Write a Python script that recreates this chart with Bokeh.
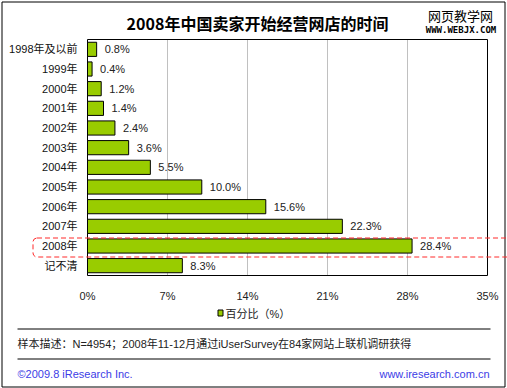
from bokeh.plotting import figure
from bokeh.models import Range1d, Label, BoxAnnotation
from bokeh.embed import file_html
from bokeh.resources import INLINE

# ---- data ----
categories = ["1998年及以前", "1999年", "2000年", "2001年", "2002年", "2003年",
              "2004年", "2005年", "2006年", "2007年", "2008年", "记不清"]
values = [0.8, 0.4, 1.2, 1.4, 2.4, 3.6, 5.5, 10.0, 15.6, 22.3, 28.4, 8.3]
value_labels = ["0.8%", "0.4%", "1.2%", "1.4%", "2.4%", "3.6%", "5.5%",
                "10.0%", "15.6%", "22.3%", "28.4%", "8.3%"]
x_ticks = [0, 7, 14, 21, 28, 35]
x_tick_labels = ["0%", "7%", "14%", "21%", "28%", "35%"]
highlight_category = "2008年"
title_text = "2008年中国卖家开始经营网店的时间"
legend_text = "百分比（%）"
note_text = "样本描述：N=4954；2008年11-12月通过iUserSurvey在84家网站上联机调研获得"
copyright_text = "©2009.8 iResearch Inc."
site_text = "www.iresearch.com.cn"
wm1_text = "网页教学网"
wm2_text = "WWW.WEBJX.COM"

LATIN = "'Liberation Sans', 'Noto Sans CJK SC'"
CJK = "'Noto Sans CJK SC'"
GREEN = "#99cc00"

W, H = 507, 388
# plot area (canvas pixels)
FL, FR, FT, FB = 87, 487, 39, 275
XMAX = 35.0
NROW = len(categories)
rows = list(range(NROW))
ROW_PX = (FB - FT) / NROW
VAL_PX = (FR - FL) / XMAX

# the whole canvas is the frame; base ranges are pixel-like,
# extra ranges map values / rows onto the plot area
p = figure(width=W, height=H, output_backend="svg", toolbar_location=None,
           x_range=Range1d(0, W), y_range=Range1d(H, 0),
           x_axis_type=None, y_axis_type=None,
           min_border=0, min_border_left=0, min_border_right=0,
           min_border_top=0, min_border_bottom=0)
p.extra_x_ranges = {"val": Range1d(-FL / VAL_PX, (W - FL) / VAL_PX)}
p.extra_y_ranges = {"row": Range1d(-0.5 + (H - FT) / ROW_PX, -0.5 - FT / ROW_PX)}
p.background_fill_color = "white"
p.border_fill_color = "white"
p.outline_line_color = None
p.xgrid.visible = False
p.ygrid.visible = False

VR = dict(x_range_name="val", y_range_name="row")
y_top, y_bot = -0.5, NROW - 0.5

# gridlines
p.segment(x0=x_ticks[1:-1], x1=x_ticks[1:-1], y0=y_top, y1=y_bot,
          line_color="#c0c0c0", line_width=1, **VR)
# plot-area outline
p.quad(left=[0], right=[XMAX], top=[y_top], bottom=[y_bot],
       fill_color=None, line_color="black", line_width=1, **VR)

# bars
p.hbar(y=rows, left=0, right=values, height=0.72,
       fill_color=GREEN, line_color="black", line_width=1, **VR)
p.text(x=values, y=rows, text=value_labels, x_offset=8,
       text_baseline="middle", text_align="left", text_font_size="11px",
       text_font={"value": LATIN}, text_color="#222222", **VR)

# category labels (left axis)
p.text(x=[0] * NROW, y=rows, text=categories, x_offset=-10,
       text_baseline="middle", text_align="right", text_font_size="11px",
       text_font={"value": LATIN}, text_color="#111111", **VR)
# x tick labels (bottom axis)
p.text(x=x_ticks, y=[y_bot] * len(x_ticks), text=x_tick_labels, y_offset=20,
       text_baseline="middle", text_align="center", text_font_size="11px",
       text_font={"value": LATIN}, text_color="#222222", **VR)

# highlight box around 2008 row
hi = categories.index(highlight_category)
p.add_layout(BoxAnnotation(left=32.5, right=520,
                           top=round(FT + hi * ROW_PX + 1) + 0.5,
                           bottom=round(FT + (hi + 1) * ROW_PX + 1) + 0.5,
                           fill_color=None, fill_alpha=0,
                           line_color="#ff2a2a", line_alpha=1, line_width=1,
                           line_dash="5 3", border_radius=4))

# title & watermark
p.add_layout(Label(x=257, y=22, text=title_text, text_align="center",
                   text_baseline="middle", text_font_size="16px", text_font=CJK,
                   text_font_style="bold", text_color="black"))
p.add_layout(Label(x=460, y=15, text=wm1_text, text_align="center",
                   text_baseline="middle", text_font_size="13px", text_font=CJK,
                   text_color="black"))
p.add_layout(Label(x=460.5, y=29, text=wm2_text, text_align="center",
                   text_baseline="middle", text_font_size="9px",
                   text_font="'DejaVu Sans Mono'", text_font_style="bold",
                   text_color="black"))

# legend
p.quad(left=[217.5], right=[222.5], top=[309.5], bottom=[315.5],
       fill_color=GREEN, line_color="black", line_width=1)
p.add_layout(Label(x=225, y=313, text=legend_text, text_align="left",
                   text_baseline="middle", text_font_size="11px", text_font=LATIN,
                   text_color="#222222"))

# separators
p.segment(x0=[17, 17], x1=[490, 490], y0=[328.5, 358.5], y1=[328.5, 358.5],
          line_color="black", line_width=1)

# footer
p.add_layout(Label(x=17, y=343, text=note_text, text_align="left",
                   text_baseline="middle", text_font_size="11px", text_font=LATIN,
                   text_color="#222222"))
p.add_layout(Label(x=17, y=373, text=copyright_text, text_align="left",
                   text_baseline="middle", text_font_size="11px", text_font=LATIN,
                   text_color="#3c3ce6"))
p.add_layout(Label(x=489, y=373, text=site_text, text_align="right",
                   text_baseline="middle", text_font_size="11px", text_font=LATIN,
                   text_color="#3c3ce6"))

# outer border
p.quad(left=[1.5], right=[504.5], top=[1.5], bottom=[386.5],
       fill_color=None, line_color="black", line_width=1)

open("out.html", "w").write(file_html(p, INLINE))
